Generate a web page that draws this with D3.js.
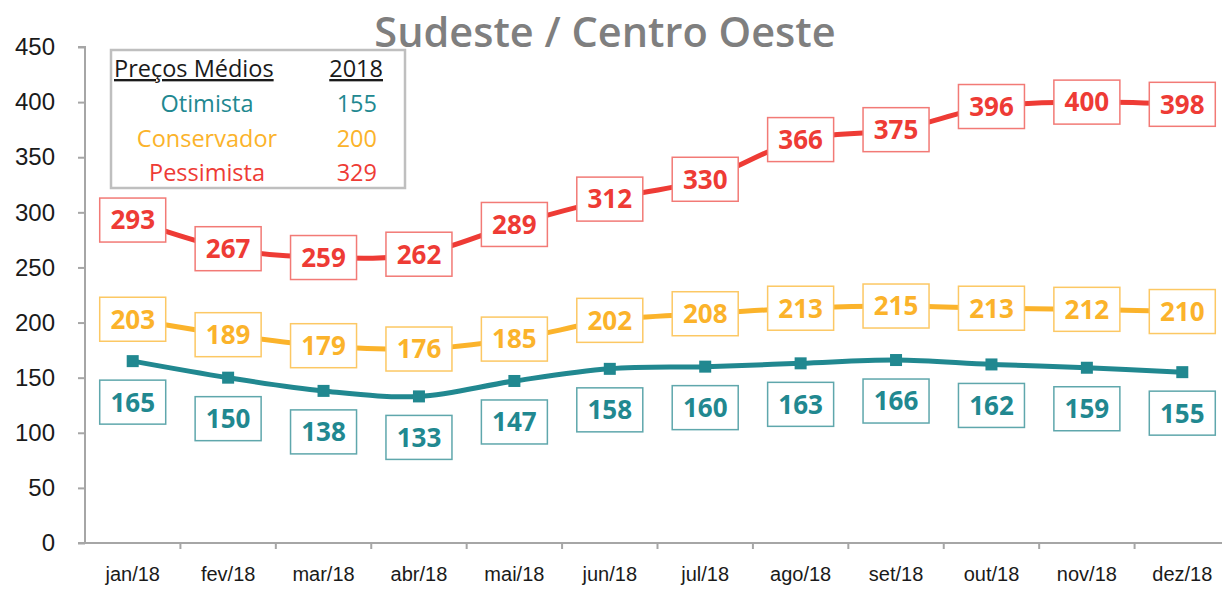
<!doctype html>
<html>
<head>
<meta charset="utf-8">
<style>
  body { margin: 0; background: #fff; }
  svg { font-family: "Open Sans", "DejaVu Sans", sans-serif; }
  .axis path, .axis line { stroke: #a6a6a6; stroke-width: 2; }
  .axis text { fill: #1a1a1a; font-size: 20px; }
  .yaxis text { font-size: 24px; }
</style>
<script src="https://d3js.org/d3.v7.min.js"></script>
</head>
<body>
<svg width="1222" height="591"></svg>
<script>
var months = ["jan/18", "fev/18", "mar/18", "abr/18", "mai/18", "jun/18",
              "jul/18", "ago/18", "set/18", "out/18", "nov/18", "dez/18"];
var pessimista  = [293, 267, 259, 262, 289, 312, 330, 366, 375, 396, 400, 398];
var conservador = [203, 189, 179, 176, 185, 202, 208, 213, 215, 213, 212, 210];
var otimista    = [165, 150, 138, 133, 147, 158, 160, 163, 166, 162, 159, 155];
var yTicks = [0, 50, 100, 150, 200, 250, 300, 350, 400, 450];
var legendNames  = ["Otimista", "Conservador", "Pessimista"];
var legendValues = [155, 200, 329];

var svg = d3.select("svg");

var x = d3.scaleBand().domain(months).range([85, 1230]);
var y = d3.scaleLinear().domain([0, 450]).range([543, 47]);

// title
svg.append("text")
   .attr("x", 605).attr("y", 47)
   .attr("text-anchor", "middle")
   .attr("font-size", "41.5px")
   .attr("font-weight", "600")
   .attr("fill", "#7f7f7f")
   .text("Sudeste / Centro Oeste");

// axes
svg.append("g")
   .attr("class", "axis yaxis")
   .attr("transform", "translate(85,0)")
   .call(d3.axisLeft(y).tickValues(yTicks).tickSize(7).tickPadding(23))
   .call(function(g) { g.select(".domain").attr("d", "M-7,47H0V543H-7"); });

var xAxis = svg.append("g")
   .attr("class", "axis")
   .attr("transform", "translate(0,543)")
   .call(d3.axisBottom(x).tickSize(0).tickPadding(24));
xAxis.select(".domain").attr("d", "M85,0H1230");
xAxis.selectAll(".tick line").remove();
// ticks on band boundaries
xAxis.selectAll(".bound")
   .data(months)
   .enter().append("line")
   .attr("x1", function(d) { return x(d) + x.bandwidth(); })
   .attr("x2", function(d) { return x(d) + x.bandwidth(); })
   .attr("y1", 0).attr("y2", 6)
   .attr("stroke", "#a6a6a6").attr("stroke-width", 2);

var series = [
  { name: "Pessimista",  values: pessimista,  color: "#ee3b35", box: "#f27a76", dy: 0 },
  { name: "Conservador", values: conservador, color: "#fbb32b", box: "#fcc864", dy: 0 },
  { name: "Otimista",    values: otimista,    color: "#218890", box: "#5fa7ac", dy: 41 }
];

var line = d3.line()
   .x(function(d, i) { return x(months[i]) + x.bandwidth() / 2; })
   .y(function(d) { return y(d); })
   .curve(d3.curveCatmullRom.alpha(0.5));

series.forEach(function(s) {
  svg.append("path")
     .datum(s.values)
     .attr("d", line)
     .attr("fill", "none")
     .attr("stroke", s.color)
     .attr("stroke-width", 5);

  if (s.name == "Otimista") {
    svg.selectAll(".mk")
       .data(s.values)
       .enter().append("rect")
       .attr("x", function(d, i) { return x(months[i]) + x.bandwidth() / 2 - 6; })
       .attr("y", function(d) { return y(d) - 6; })
       .attr("width", 12).attr("height", 12)
       .attr("fill", s.color);
  }

  var lab = svg.append("g").selectAll("g")
     .data(s.values)
     .enter().append("g")
     .attr("transform", function(d, i) {
        return "translate(" + (x(months[i]) + x.bandwidth() / 2) + "," + (y(d) + s.dy) + ")";
     });
  lab.append("rect")
     .attr("x", -33).attr("y", -22)
     .attr("width", 66).attr("height", 44)
     .attr("fill", "#fff")
     .attr("stroke", s.box)
     .attr("stroke-width", 1.5);
  lab.append("text")
     .attr("text-anchor", "middle")
     .attr("dy", "0.36em")
     .attr("font-size", "26px")
     .attr("font-weight", "bold")
     .attr("fill", s.color)
     .text(function(d) { return d; });
});

// legend table
var leg = svg.append("g");
leg.append("rect")
   .attr("x", 111).attr("y", 50)
   .attr("width", 294).attr("height", 138)
   .attr("fill", "#fff")
   .attr("stroke", "#bfbfbf")
   .attr("stroke-width", 2.5);
leg.append("text")
   .attr("x", 114).attr("y", 77)
   .attr("font-size", "23.5px").attr("fill", "#1a1a1a")
   .attr("text-decoration", "underline")
   .text("Preços Médios");
leg.append("text")
   .attr("x", 383).attr("y", 77)
   .attr("text-anchor", "end")
   .attr("font-size", "23.5px").attr("fill", "#1a1a1a")
   .attr("text-decoration", "underline")
   .text("2018");
var legColors = ["#218890", "#fbb32b", "#ee3b35"];
legendNames.forEach(function(n, i) {
  leg.append("text")
     .attr("x", 207).attr("y", 112 + i * 34.5)
     .attr("text-anchor", "middle")
     .attr("font-size", "23.5px").attr("fill", legColors[i])
     .text(n);
  leg.append("text")
     .attr("x", 377).attr("y", 112 + i * 34.5)
     .attr("text-anchor", "end")
     .attr("font-size", "23.5px").attr("fill", legColors[i])
     .text(legendValues[i]);
});
</script>
</body>
</html>
